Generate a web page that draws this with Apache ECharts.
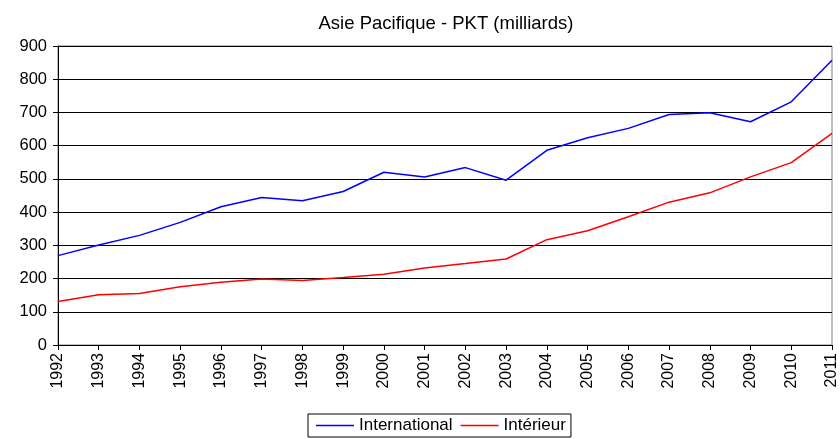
<!DOCTYPE html>
<html>
<head>
<meta charset="utf-8">
<script src="https://cdn.jsdelivr.net/npm/echarts@6/dist/echarts.min.js"></script>
<style>html,body{margin:0;padding:0;background:#fff}#c{width:840px;height:439px}</style>
</head>
<body>
<div id="c"></div>
<script>
var years = ['1992','1993','1994','1995','1996','1997','1998','1999','2000','2001','2002','2003','2004','2005','2006','2007','2008','2009','2010','2011'];
var international = [269, 301, 330, 369, 416, 444, 434, 462, 520, 506, 534, 496, 586, 624, 652, 694, 699, 672, 732, 857];
var interieur = [131, 151, 155, 175, 189, 199, 194, 203, 213, 232, 245, 259, 317, 344, 386, 430, 458, 506, 549, 637];
var seriesNames = ['International', 'Intérieur'];
var yTicks = {min: 0, max: 900, interval: 100};

var chart = echarts.init(document.getElementById('c'), null, {renderer: 'canvas'});
var font = 'Liberation Sans, Arial, sans-serif';
chart.setOption({
  animation: false,
  backgroundColor: '#fff',
  title: {
    text: 'Asie Pacifique - PKT (milliards)',
    left: 441, textAlign: 'center', top: 9,
    textStyle: {fontFamily: font, fontSize: 18.5, fontWeight: 'normal', color: '#000'}
  },
  legend: {
    data: [
      {name: seriesNames[0], icon: 'rect'},
      {name: seriesNames[1], icon: 'rect'}
    ],
    left: 308, bottom: 2,
    itemWidth: 38, itemHeight: 1.5, itemGap: 8,
    borderColor: '#000', borderWidth: 1, borderRadius: 0,
    padding: [3, 5, 3, 8],
    textStyle: {fontFamily: font, fontSize: 17, color: '#000'}
  },
  grid: {left: 58, right: 2, top: 46, bottom: 94, show: true, borderColor: '#808080', borderWidth: 1},
  xAxis: {
    type: 'category', data: years, boundaryGap: false,
    axisLine: {lineStyle: {color: '#000', width: 1}},
    axisTick: {show: true, inside: false, length: 5, lineStyle: {color: '#000'}, alignWithLabel: true},
    axisLabel: {rotate: 90, margin: 8, fontFamily: font, fontSize: 16, color: '#000', interval: 0},
    splitLine: {show: false}
  },
  yAxis: {
    type: 'value', min: yTicks.min, max: yTicks.max, interval: yTicks.interval,
    axisLine: {show: true, lineStyle: {color: '#000', width: 1}},
    axisTick: {show: true, length: 5, lineStyle: {color: '#000'}},
    axisLabel: {margin: 11, fontFamily: font, fontSize: 16.5, color: '#000'},
    splitLine: {show: true, lineStyle: {color: '#000', width: 1}}
  },
  series: [
    {name: seriesNames[0], type: 'line', data: international, showSymbol: false, symbol: 'none',
     lineStyle: {color: '#0000ff', width: 1.5}, itemStyle: {color: '#0000ff'}},
    {name: seriesNames[1], type: 'line', data: interieur, showSymbol: false, symbol: 'none',
     lineStyle: {color: '#ff0000', width: 1.5}, itemStyle: {color: '#ff0000'}}
  ]
});
</script>
</body>
</html>
